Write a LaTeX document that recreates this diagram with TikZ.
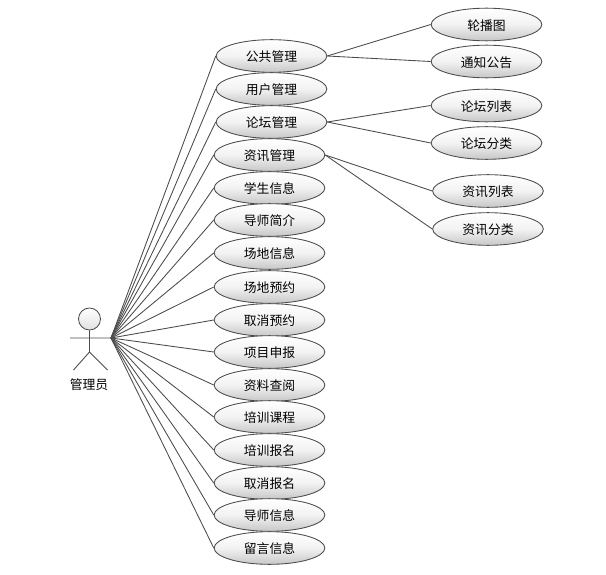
\documentclass[tikz,border=0pt]{standalone}
\usepackage{fontspec}
\setmainfont{Noto Sans CJK SC}
\usetikzlibrary{shapes.geometric}
\tikzset{
  usecase/.style={draw=black!70, ellipse, top color=white, bottom color=black!22, middle color=black!5, line width=0.65pt, minimum width=83pt, minimum height=24.5pt, inner sep=0pt, text height=9.8pt, text depth=1.1pt, font=\fontsize{9.6pt}{11pt}\selectfont},
  assoc/.style={draw=black!70, line width=0.65pt}
}
\begin{document}
\begin{tikzpicture}[x=0.75pt, y=-0.75pt]
  \useasboundingbox (0,0) rectangle (606,574);
  % actor
  \node[draw=black!70, circle, top color=white, bottom color=black!12, line width=0.65pt, minimum size=16.5pt, inner sep=0pt] (head) at (89.5,319) {};
  \coordinate (hip) at (89.5,352);
  \coordinate (lhand) at (70,338);
  \coordinate (rhand) at (111,338);
  \coordinate (lfoot) at (73.5,370);
  \coordinate (rfoot) at (107.5,370);
  \draw[assoc] (head) -- (hip) (lhand) -- (rhand) (lfoot) -- (hip) -- (rfoot);
  \node[font=\fontsize{9.6pt}{11pt}\selectfont, inner sep=0pt] (admin) at (89,384.5) {管理员};
  % left column
  \node[usecase] (public) at (271.5,56) {公共管理};
  \node[usecase] (user) at (271.5,89) {用户管理};
  \node[usecase] (forum) at (271.5,122) {论坛管理};
  \node[usecase] (news) at (269.5,155) {资讯管理};
  \node[usecase] (student) at (269.5,188) {学生信息};
  \node[usecase] (tutor) at (269.5,220) {导师简介};
  \node[usecase] (site) at (269.5,253) {场地信息};
  \node[usecase] (booking) at (269.5,287) {场地预约};
  \node[usecase] (cancelbook) at (269.5,320) {取消预约};
  \node[usecase] (project) at (269.5,352) {项目申报};
  \node[usecase] (material) at (269.5,385) {资料查阅};
  \node[usecase] (course) at (269.5,417) {培训课程};
  \node[usecase] (signup) at (269.5,450) {培训报名};
  \node[usecase] (cancelsign) at (269.5,483) {取消报名};
  \node[usecase] (tutorinfo) at (269.5,515) {导师信息};
  \node[usecase] (message) at (269.5,548) {留言信息};
  % right column
  \node[usecase] (carousel) at (486.5,24.5) {轮播图};
  \node[usecase] (notice) at (486.5,61.5) {通知公告};
  \node[usecase] (forumlist) at (486.5,105.5) {论坛列表};
  \node[usecase] (forumcat) at (486.5,143) {论坛分类};
  \node[usecase] (newslist) at (488,191) {资讯列表};
  \node[usecase] (newscat) at (488,229) {资讯分类};
  % connectors
  \foreach \n in {public,user,forum,news,student,tutor,site,booking,cancelbook,project,material,course,signup,cancelsign,tutorinfo,message}
    \draw[assoc] (rhand) -- (\n.west);
  \draw[assoc] (public.east) -- (carousel.west);
  \draw[assoc] (public.east) -- (notice.west);
  \draw[assoc] (forum.east) -- (forumlist.west);
  \draw[assoc] (forum.east) -- (forumcat.west);
  \draw[assoc] (news.east) -- (newslist.west);
  \draw[assoc] (news.east) -- (newscat.west);
\end{tikzpicture}
\end{document}
